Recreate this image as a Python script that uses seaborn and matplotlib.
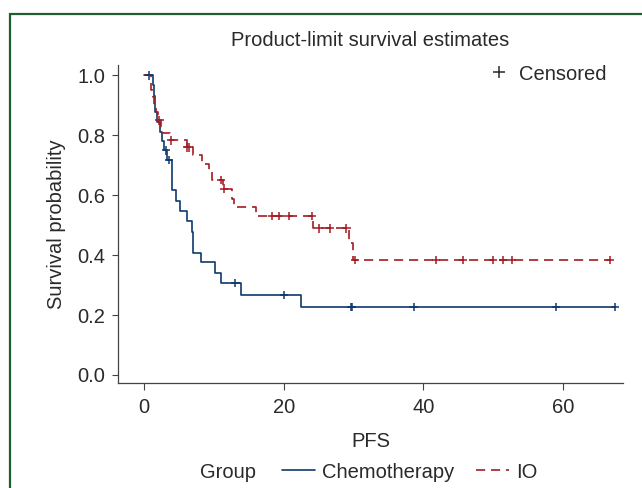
import matplotlib
matplotlib.use("Agg")
import matplotlib.pyplot as plt
import matplotlib.patches as mpatches
from matplotlib.lines import Line2D
import seaborn as sns
import pandas as pd

# ---- data (Kaplan-Meier step points) ----
chemo_time = [0, 1.33, 1.42, 1.58, 1.65, 1.86, 2.3, 2.6, 2.8, 3.35, 4.05, 4.58, 5.16,
              6.2, 6.83, 7.06, 8.12, 10.17, 11.0, 13.87, 22.45, 67.5]
chemo_surv = [1.0, 0.967, 0.933, 0.9, 0.877, 0.843, 0.81, 0.78, 0.75, 0.717, 0.617, 0.58, 0.547,
              0.513, 0.478, 0.408, 0.376, 0.342, 0.306, 0.267, 0.226, 0.226]
chemo_cens_time = [0.7, 3.15, 3.6, 13.1, 20.1, 29.6, 29.8, 38.6, 59.0, 67.5]
chemo_cens_surv = [1.0, 0.75, 0.717, 0.306, 0.267, 0.226, 0.226, 0.226, 0.226, 0.226]

io_time = [0, 1.0, 1.05, 1.25, 1.5, 1.67, 1.96, 2.4, 2.55, 3.72, 6.1, 7.0, 8.26, 9.35, 9.7,
           11.3, 12.65, 12.9, 16.05, 24.25, 29.3, 30.0, 66.7]
io_surv = [1.0, 0.975, 0.95, 0.928, 0.9, 0.877, 0.85, 0.828, 0.807, 0.783, 0.76, 0.733, 0.706,
           0.678, 0.65, 0.622, 0.589, 0.561, 0.53, 0.489, 0.44, 0.383, 0.383]
io_cens_time = [2.2, 3.85, 6.2, 6.4, 11.0, 11.5, 18.3, 19.4, 20.7, 24.1, 25.1, 26.6, 29.0,
                30.2, 41.8, 45.7, 50.0, 51.4, 52.7, 66.7]
io_cens_surv = [0.85, 0.783, 0.76, 0.76, 0.65, 0.622, 0.53, 0.53, 0.53, 0.53, 0.489, 0.489, 0.489,
                0.383, 0.383, 0.383, 0.383, 0.383, 0.383, 0.383]

groups = ["Chemotherapy", "IO"]
x_ticks = [0, 20, 40, 60]
y_ticks = [0.0, 0.2, 0.4, 0.6, 0.8, 1.0]

# ---- styling ----
sns.set_theme(style="ticks")
plt.rcParams["font.family"] = ["Liberation Sans", "DejaVu Sans"]
TXT = "#2a2a2a"
FS = 14.5
pal = {"Chemotherapy": "#0e3a6b", "IO": "#a31c24"}
dash_map = {"Chemotherapy": "", "IO": (5.5, 3.5)}

curves = pd.concat([
    pd.DataFrame({"time": chemo_time, "surv": chemo_surv, "group": groups[0]}),
    pd.DataFrame({"time": io_time, "surv": io_surv, "group": groups[1]}),
], ignore_index=True)
cens = pd.concat([
    pd.DataFrame({"time": chemo_cens_time, "surv": chemo_cens_surv, "group": groups[0]}),
    pd.DataFrame({"time": io_cens_time, "surv": io_cens_surv, "group": groups[1]}),
], ignore_index=True)

W, H = 642, 488
fig = plt.figure(figsize=(W / 100, H / 100), dpi=100)
fig.patch.set_facecolor("white")
L, R, T, B = 118, 623, 65, 383
ax = fig.add_axes([L / W, 1 - B / H, (R - L) / W, (B - T) / H])

sns.lineplot(data=curves, x="time", y="surv", hue="group", style="group",
             palette=pal, dashes=dash_map, estimator=None, sort=False,
             drawstyle="steps-post", linewidth=1.2, legend=False, ax=ax)
sns.scatterplot(data=cens, x="time", y="surv", hue="group", palette=pal,
                marker="+", s=36, linewidth=1.1, legend=False, ax=ax, zorder=5)

ax.set_xlim(-3.72, 68.6)
ax.set_ylim(-0.027, 1.035)
ax.set_xticks(x_ticks)
ax.set_xticklabels([str(v) for v in x_ticks])
ax.set_yticks(y_ticks)
ax.set_yticklabels([f"{v:.1f}" for v in y_ticks])
sns.despine(ax=ax)
for s in ["left", "bottom"]:
    ax.spines[s].set_color("#444444")
    ax.spines[s].set_linewidth(0.9)
ax.tick_params(axis="x", length=5, width=0.8, color="#444444", pad=6,
               labelsize=FS, labelcolor=TXT)
ax.tick_params(axis="y", length=4, width=0.8, color="#444444", pad=5,
               labelsize=FS, labelcolor=TXT)
ax.set_xlabel("PFS", fontsize=FS, color=TXT)
ax.set_ylabel("Survival probability", fontsize=FS, color=TXT, labelpad=8)
ax.xaxis.set_label_coords(0.5, (B - 432) / (B - T))

fig.text(370 / W, 1 - 41 / H, "Product-limit survival estimates",
         ha="center", va="center", fontsize=FS, color=TXT)

# censored legend inside axes
cens_handle = Line2D([], [], marker="+", ls="none", color=TXT, markersize=8, mew=1.1)
ax.legend(handles=[cens_handle], labels=["Censored"], loc="center right",
          bbox_to_anchor=(607 / W, 1 - 74 / H), bbox_transform=fig.transFigure,
          frameon=False, borderpad=0, borderaxespad=0, handlelength=1.0,
          handletextpad=0.5, fontsize=FS, labelcolor=TXT)

# bottom group legend
fig.text(200 / W, 1 - 472 / H, "Group", ha="left", va="center", fontsize=FS, color=TXT)
h1 = Line2D([], [], color=pal["Chemotherapy"], lw=1.2)
h2 = Line2D([], [], color=pal["IO"], lw=1.2, dashes=(5.5, 3.5))
fig.legend(handles=[h1, h2], labels=groups, ncol=2, loc="center left",
           bbox_to_anchor=(282 / W, 1 - 472 / H), frameon=False, borderpad=0,
           borderaxespad=0, handlelength=1.65, handletextpad=0.35,
           columnspacing=1.05, fontsize=FS, labelcolor=TXT)

# green frame (right and bottom edges fall outside the picture)
frame = mpatches.Rectangle((10 / W, -0.2), 1.5, 1.2 - 14 / H, transform=fig.transFigure,
                           fill=False, edgecolor="#1f5e33", linewidth=1.6, clip_on=False)
fig.patches.append(frame)

fig.savefig("out.png", dpi=100, facecolor="white")
